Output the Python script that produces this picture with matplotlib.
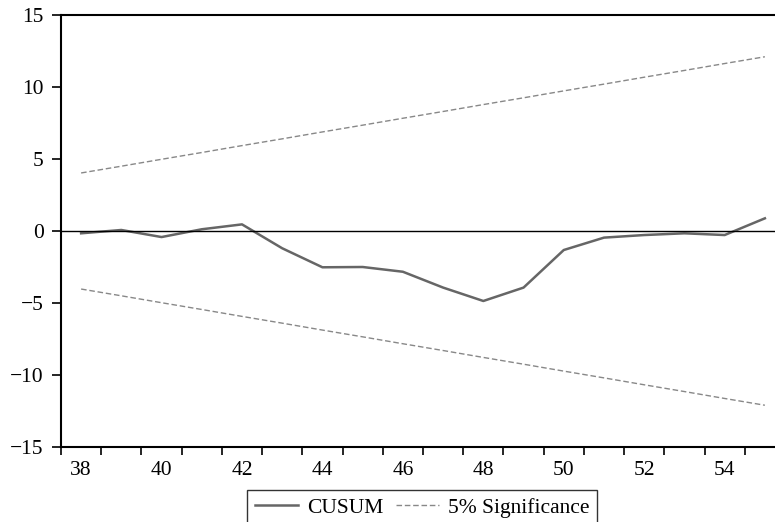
import matplotlib.pyplot as plt
import numpy as np

# CUSUM test, observations 38..55
obs = np.arange(38, 56)
cusum = [-0.16, 0.07, -0.42, 0.12, 0.46, -1.2, -2.52, -2.5, -2.83,
         -3.93, -4.86, -3.93, -1.32, -0.46, -0.28, -0.16, -0.28, 0.88]
upper = [4.03, 4.50, 4.98, 5.45, 5.93, 6.40, 6.88, 7.35, 7.83,
         8.30, 8.78, 9.25, 9.73, 10.20, 10.68, 11.15, 11.63, 12.10]
lower = [-v for v in upper]
xtick_labels = [38, 40, 42, 44, 46, 48, 50, 52, 54]
ytick_labels = [-15, -10, -5, 0, 5, 10, 15]

plt.rcParams["font.family"] = ["Liberation Serif", "DejaVu Serif"]
plt.rcParams["font.size"] = 15.5

fig = plt.figure(figsize=(7.75, 5.22), dpi=100)
# axes run past the right edge, as in the cropped original
ax = fig.add_axes([61 / 775, 1 - 447 / 522, 724 / 775, 432 / 522])

ax.plot(obs, cusum, color="#666666", linewidth=1.8, label="CUSUM")
ax.plot(obs, upper, color="#888888", linewidth=1.0, dashes=(4, 2), label="5% Significance")
ax.plot(obs, lower, color="#888888", linewidth=1.0, dashes=(4, 2))
ax.axhline(0, color="black", linewidth=1.0)

ax.set_xlim(37.5, 55.5)
ax.set_ylim(-15, 15)
ax.set_yticks(ytick_labels)
ax.set_xticks(xtick_labels)
ax.set_xticks(np.arange(37.5, 56.0, 1.0), minor=True)
ax.tick_params(axis="x", which="major", length=0, pad=10)
ax.tick_params(axis="x", which="minor", length=6, width=1.2, direction="out")
ax.tick_params(axis="y", length=6.5, width=1.2, pad=6)

for side in ["left", "bottom", "top", "right"]:
    ax.spines[side].set_linewidth(1.5)

fig.legend(
    loc="upper center",
    bbox_to_anchor=(422 / 775, 1 - 490 / 522),
    ncol=2,
    frameon=True,
    fancybox=False,
    edgecolor="black",
    handlelength=2.0,
    handletextpad=0.4,
    columnspacing=0.6,
    borderpad=0.35,
    borderaxespad=0,
)
fig.legends[0].get_frame().set_linewidth(1.0)

fig.savefig("out.png", dpi=100)
